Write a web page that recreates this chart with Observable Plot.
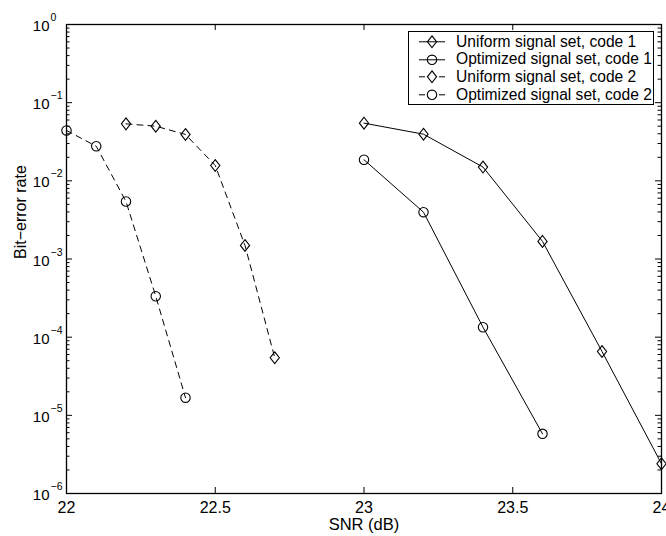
<!DOCTYPE html>
<html>
<head>
<meta charset="utf-8">
<script src="https://cdn.jsdelivr.net/npm/d3@7"></script>
<script src="https://cdn.jsdelivr.net/npm/@observablehq/plot@0.6"></script>
<style>
  html, body { margin: 0; padding: 0; background: #fff; }
  #wrap { position: relative; width: 666px; height: 536px; overflow: hidden; font-family: "Liberation Sans", Arial, sans-serif; }
  #legend { position: absolute; left: 408px; top: 31px; width: 244px; height: 71px; border: 1px solid #000; background: #fff; overflow: hidden; padding-top: 1px; box-sizing: content-box; }
  .row { display: flex; align-items: center; height: 17.6px; font-size: 15.6px; color: #000; white-space: nowrap; }
  .row svg { flex: none; width: 47px; height: 17.6px; }
</style>
</head>
<body>
<div id="wrap">
  <div id="chart"></div>
  <div id="legend"></div>
</div>
<script>
// ---- data ----
const snrUniform1 = [23.0, 23.2, 23.4, 23.6, 23.8, 24.0];
const berUniform1 = [0.0547, 0.0395, 0.0150, 0.00168, 6.56e-5, 2.4e-6];

const snrOptimized1 = [23.0, 23.2, 23.4, 23.6];
const berOptimized1 = [0.0186, 0.00397, 1.34e-4, 5.8e-6];

const snrUniform2 = [22.2, 22.3, 22.4, 22.5, 22.6, 22.7];
const berUniform2 = [0.0536, 0.0500, 0.0392, 0.0157, 0.00149, 5.45e-5];

const snrOptimized2 = [22.0, 22.1, 22.2, 22.3, 22.4];
const berOptimized2 = [0.0441, 0.0277, 0.00544, 3.34e-4, 1.68e-5];

const seriesNames = [
  "Uniform signal set, code 1",
  "Optimized signal set, code 1",
  "Uniform signal set, code 2",
  "Optimized signal set, code 2"
];

const xTicks = [22, 22.5, 23, 23.5, 24];
const xTickLabels = ["22", "22.5", "23", "23.5", "24"];
const yTicks = [1, 1e-1, 1e-2, 1e-3, 1e-4, 1e-5, 1e-6];
const yTickExponents = ["0", "\u22121", "\u22122", "\u22123", "\u22124", "\u22125", "\u22126"];
const xLabel = "SNR (dB)";
const yLabel = "Bit\u2212error rate";

// ---- layout ----
const W = 666, H = 536;
const mt = 24, mr = 5, mb = 43, ml = 66;
const plotH = H - mt - mb, plotW = W - ml - mr;

const toRows = (xs, ys) => xs.map((x, i) => ({x, y: ys[i]}));
const u1 = toRows(snrUniform1, berUniform1);
const o1 = toRows(snrOptimized1, berOptimized1);
const u2 = toRows(snrUniform2, berUniform2);
const o2 = toRows(snrOptimized2, berOptimized2);

// minor log ticks (2..9 per decade)
const yMinor = [];
for (let e = -6; e < 0; e++) for (let m = 2; m <= 9; m++) yMinor.push(m * Math.pow(10, e));

const diamond = {
  draw(ctx) {
    const w = 4.6, h = 5.9;
    ctx.moveTo(0, -h); ctx.lineTo(w, 0); ctx.lineTo(0, h); ctx.lineTo(-w, 0); ctx.closePath();
  }
};

const dash = "6,5";
const major = 6, minor = 3.5;

const chart = Plot.plot({
  width: W, height: H,
  marginTop: mt, marginRight: mr, marginBottom: mb, marginLeft: ml,
  style: {fontFamily: "'Liberation Sans', Arial, sans-serif", background: "white", overflow: "visible"},
  x: {domain: [22, 24], axis: null},
  y: {type: "log", domain: [1e-6, 1], axis: null},
  marks: [
    // series lines
    Plot.line(u1, {x: "x", y: "y", stroke: "black", strokeWidth: 1}),
    Plot.line(o1, {x: "x", y: "y", stroke: "black", strokeWidth: 1}),
    Plot.line(u2, {x: "x", y: "y", stroke: "black", strokeWidth: 1, strokeDasharray: dash}),
    Plot.line(o2, {x: "x", y: "y", stroke: "black", strokeWidth: 1, strokeDasharray: dash}),
    // markers
    Plot.dot(u1, {x: "x", y: "y", symbol: diamond, stroke: "black", fill: "none", strokeWidth: 1.1}),
    Plot.dot(u2, {x: "x", y: "y", symbol: diamond, stroke: "black", fill: "none", strokeWidth: 1.1}),
    Plot.dot(o1, {x: "x", y: "y", symbol: "circle", r: 4.7, stroke: "black", fill: "none", strokeWidth: 1.1}),
    Plot.dot(o2, {x: "x", y: "y", symbol: "circle", r: 4.7, stroke: "black", fill: "none", strokeWidth: 1.1}),
    // inward ticks: bottom & top
    Plot.tickX(xTicks, {x: d => d, insetTop: plotH - major, stroke: "black", strokeWidth: 1}),
    Plot.tickX(xTicks, {x: d => d, insetBottom: plotH - major, stroke: "black", strokeWidth: 1}),
    // inward ticks: left & right (major + minor)
    Plot.tickY(yTicks, {y: d => d, insetRight: plotW - major, stroke: "black", strokeWidth: 1}),
    Plot.tickY(yTicks, {y: d => d, insetLeft: plotW - major, stroke: "black", strokeWidth: 1}),
    Plot.tickY(yMinor, {y: d => d, insetRight: plotW - minor, stroke: "black", strokeWidth: 1}),
    Plot.tickY(yMinor, {y: d => d, insetLeft: plotW - minor, stroke: "black", strokeWidth: 1}),
    // frame
    Plot.frame({stroke: "black", strokeWidth: 1.3}),
    // x tick labels
    Plot.text(xTicks, {x: d => d, text: (d, i) => xTickLabels[i], frameAnchor: "bottom", lineAnchor: "top", dy: 8, fontSize: 16, fill: "black"}),
    // y tick labels: "10" + superscript exponent
    Plot.text(yTicks, {y: d => d, text: () => "10", frameAnchor: "left", textAnchor: "end", lineAnchor: "bottom", dx: -17, dy: 6.5, fontSize: 15, fill: "black"}),
    Plot.text(yTicks, {y: d => d, text: (d, i) => yTickExponents[i], frameAnchor: "left", textAnchor: "start", lineAnchor: "bottom", dx: -16, dy: -3.5, fontSize: 10.5, fill: "black"}),
    // axis labels
    Plot.text([xLabel], {text: d => d, frameAnchor: "bottom", lineAnchor: "middle", dy: 31, fontSize: 16.5, fill: "black"}),
    Plot.text([yLabel], {text: d => d, frameAnchor: "left", rotate: -90, lineAnchor: "middle", dx: -46, fontSize: 16, fill: "black"})
  ]
});
document.getElementById("chart").appendChild(chart);

// legend (HTML overlay inside the axes box)
const legend = document.getElementById("legend");
const styles = [
  {marker: "diamond", dashed: false},
  {marker: "circle", dashed: false},
  {marker: "diamond", dashed: true},
  {marker: "circle", dashed: true}
];
seriesNames.forEach((name, i) => {
  const s = styles[i];
  const row = document.createElement("div");
  row.className = "row";
  const ns = "http://www.w3.org/2000/svg";
  const svg = document.createElementNS(ns, "svg");
  const line = document.createElementNS(ns, "line");
  line.setAttribute("x1", 10); line.setAttribute("x2", 36);
  line.setAttribute("y1", 8.8); line.setAttribute("y2", 8.8);
  line.setAttribute("stroke", "black"); line.setAttribute("stroke-width", 1);
  if (s.dashed) line.setAttribute("stroke-dasharray", "6,14");
  svg.appendChild(line);
  let m;
  if (s.marker === "circle") {
    m = document.createElementNS(ns, "circle");
    m.setAttribute("cx", 23); m.setAttribute("cy", 8.8); m.setAttribute("r", 4.7);
  } else {
    m = document.createElementNS(ns, "path");
    m.setAttribute("d", "M23,2.9L27.6,8.8L23,14.7L18.4,8.8Z");
  }
  m.setAttribute("fill", "none"); m.setAttribute("stroke", "black"); m.setAttribute("stroke-width", 1.1);
  svg.appendChild(m);
  row.appendChild(svg);
  const t = document.createElement("span");
  t.textContent = name;
  row.appendChild(t);
  legend.appendChild(row);
});
</script>
</body>
</html>
